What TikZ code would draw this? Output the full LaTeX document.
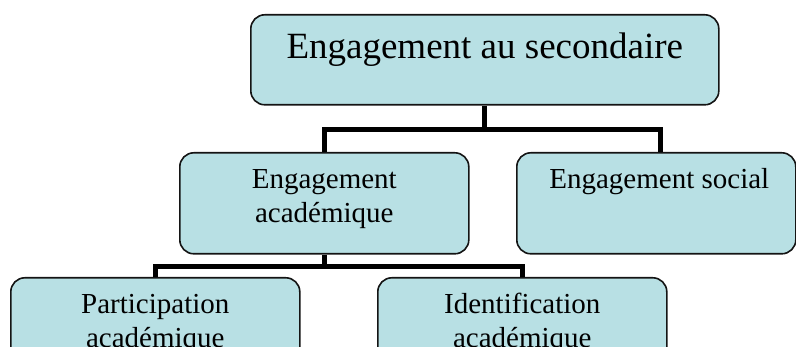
\documentclass[tikz,border=0pt]{standalone}
\usepackage{fontspec}
\setmainfont{Liberation Serif}
\usetikzlibrary{calc}
\definecolor{boxfill}{RGB}{184,224,228}
\definecolor{boxline}{RGB}{20,20,20}
\begin{document}
\begin{tikzpicture}[x=1pt,y=-1pt,
  box/.style={draw=boxline, line width=1.6pt, fill=boxfill, rounded corners=14pt,
    inner sep=0pt, anchor=north west, minimum width=289pt, minimum height=101pt},
  bigtxt/.style={inner sep=0pt, anchor=north, align=center, font=\fontsize{37}{44}\selectfont},
  txt/.style={inner sep=0pt, anchor=north, align=center, font=\fontsize{29}{34}\selectfont},
  link/.style={line width=5pt, line join=miter, black}]
\useasboundingbox (0,0) rectangle (796,347);
\clip (0,0) rectangle (796,347);

% boxes
\node[box, minimum width=468pt, minimum height=90pt] (top) at (250,14) {};
\node[box] (acad) at (179,152) {};
\node[box, minimum width=279pt] (social) at (516,152) {};
\node[box] (part) at (10,277) {};
\node[box] (ident) at (377,277) {};

% labels
\node[bigtxt] (toptxt) at (top.north) {\rule{0pt}{44pt}Engagement au secondaire};
\node[txt] (acadtxt) at (acad.north) {\rule{0pt}{36pt}Engagement\\académique};
\node[txt] (socialtxt) at ([xshift=3pt]social.north) {\rule{0pt}{36pt}Engagement social};
\node[txt] (parttxt) at (part.north) {\rule{0pt}{36pt}Participation\\académique};
\node[txt] (identtxt) at (ident.north) {\rule{0pt}{36pt}Identification\\académique};

% connectors
\coordinate (j1) at ($(top.south)+(0,24)$);
\coordinate (j2) at ($(acad.south)+(0,12)$);
\draw[link] (top.south) -- (j1);
\draw[link] (acad.north) |- (j1) -| ([xshift=4.5pt]social.north);
\draw[link] (acad.south) -- (j2);
\draw[link] (part.north) |- (j2) -| (ident.north);
\end{tikzpicture}
\end{document}
